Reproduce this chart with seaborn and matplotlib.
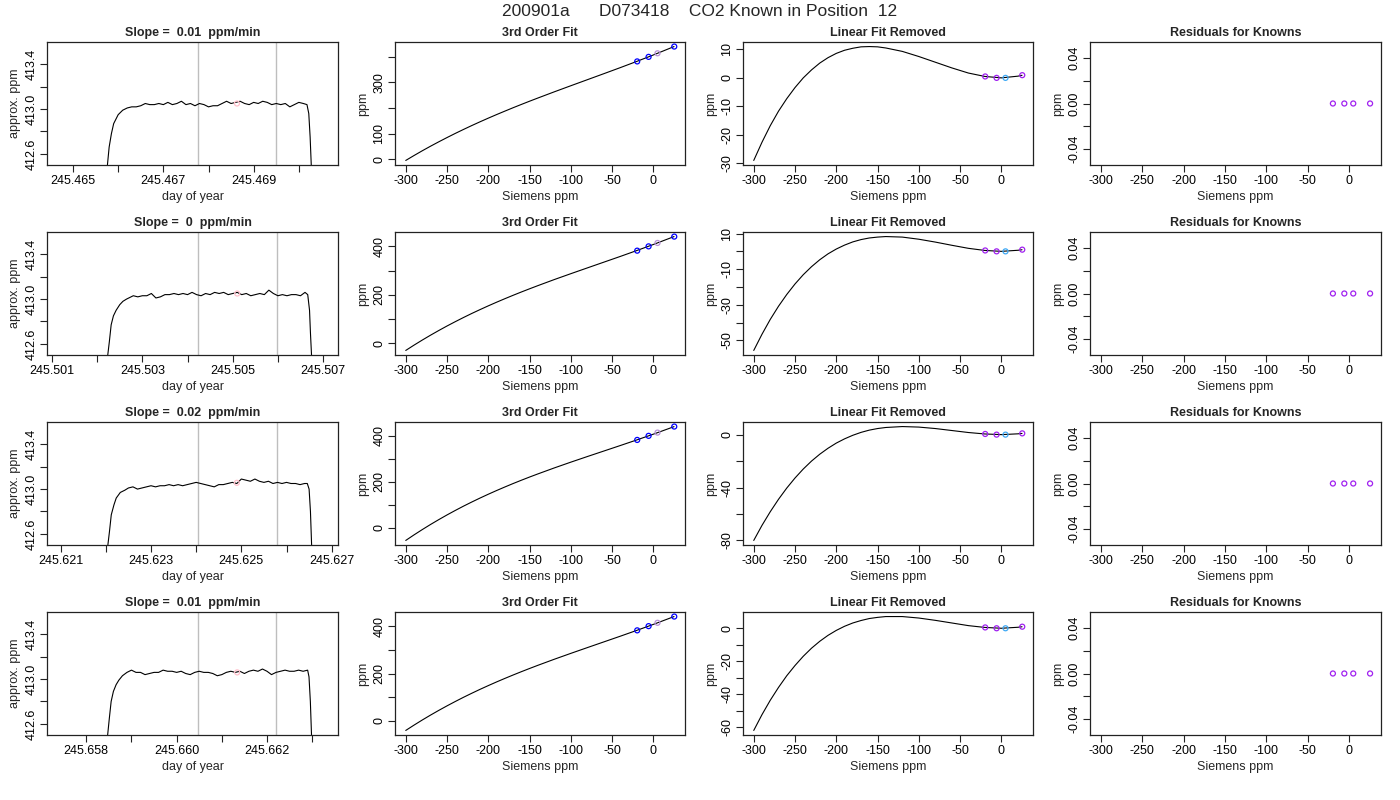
import matplotlib
matplotlib.use("Agg")
import matplotlib.pyplot as plt
import seaborn as sns

sns.set_theme(style="ticks")
plt.rcParams["font.family"] = ["Liberation Sans", "DejaVu Sans"]

TITLE = "200901a      D073418    CO2 Known in Position  12"

# ---- column 1: analyser trace for each run ----
trace_day = [
    [245.46575, 245.46580, 245.46585, 245.46590, 245.46600, 245.46610, 245.46620, 245.46630,
     245.4664, 245.4665, 245.4666, 245.4667, 245.4668, 245.4669, 245.4670, 245.4671, 245.4672, 245.4673,
     245.4674, 245.4675, 245.4676, 245.4677, 245.4678, 245.4679, 245.4680, 245.4681, 245.4682, 245.4683,
     245.4684, 245.4685, 245.4686, 245.4687, 245.4688, 245.4689, 245.4690, 245.4691, 245.4692, 245.4693,
     245.4694, 245.4695, 245.4696, 245.4697, 245.4698, 245.4699, 245.4700, 245.4701,
     245.47018, 245.47022, 245.47025, 245.47028],
    [245.50222, 245.50227, 245.50231, 245.50236, 245.50242, 245.50250, 245.50257, 245.50265,
     245.5027, 245.5028, 245.5029, 245.5030, 245.5031, 245.5032, 245.5033, 245.5034, 245.5035, 245.5036,
     245.5037, 245.5038, 245.5039, 245.5040, 245.5041, 245.5042, 245.5043, 245.5044, 245.5045, 245.5046,
     245.5047, 245.5048, 245.5049, 245.5050, 245.5051, 245.5052, 245.5053, 245.5054, 245.5055, 245.5056,
     245.5057, 245.5058, 245.5059, 245.5060, 245.5061, 245.5062, 245.5063, 245.5064, 245.5065, 245.5066,
     245.50666, 245.50670, 245.50672, 245.50675],
    [245.62203, 245.62208, 245.62212, 245.62218, 245.62223, 245.62232, 245.62242,
     245.6225, 245.6226, 245.6227, 245.6228, 245.6229, 245.6230, 245.6231, 245.6232, 245.6233, 245.6234,
     245.6235, 245.6236, 245.6237, 245.6238, 245.6239, 245.6240, 245.6241, 245.6242, 245.6243, 245.6244,
     245.6245, 245.6246, 245.6247, 245.6248, 245.6249, 245.6250, 245.6251, 245.6252, 245.6253, 245.6254,
     245.6255, 245.6256, 245.6257, 245.6258, 245.6259, 245.6260, 245.6261, 245.6262, 245.6263, 245.6264,
     245.62646, 245.62650, 245.62653, 245.62656],
    [245.65846, 245.65851, 245.65855, 245.65860, 245.65866, 245.65872, 245.65880, 245.65890,
     245.6590, 245.6591, 245.6592, 245.6593, 245.6594, 245.6595, 245.6596, 245.6597, 245.6598, 245.6599,
     245.6600, 245.6601, 245.6602, 245.6603, 245.6604, 245.6605, 245.6606, 245.6607, 245.6608, 245.6609,
     245.6610, 245.6611, 245.6612, 245.6613, 245.6614, 245.6615, 245.6616, 245.6617, 245.6618, 245.6619,
     245.6620, 245.6621, 245.6622, 245.6623, 245.6624, 245.6625, 245.6626, 245.6627, 245.6628, 245.6629,
     245.66293, 245.66296, 245.66299],
]
trace_ppm = [
    [412.45, 412.66, 412.78, 412.87, 412.95, 412.99, 413.01, 413.02,
     413.02, 413.03, 413.05, 413.04, 413.04, 413.05, 413.04, 413.06, 413.04, 413.05,
     413.07, 413.04, 413.05, 413.03, 413.05, 413.04, 413.02, 413.03, 413.03, 413.05,
     413.07, 413.05, 413.06, 413.07, 413.05, 413.04, 413.06, 413.05, 413.07, 413.06,
     413.04, 413.05, 413.04, 413.05, 413.02, 413.04, 413.06, 413.05,
     413.04, 412.96, 412.75, 412.45],
    [412.45, 412.62, 412.77, 412.85, 412.90, 412.95, 412.98, 413.00,
     413.01, 413.03, 413.02, 413.03, 413.03, 413.05, 413.01, 413.02, 413.04, 413.04,
     413.05, 413.04, 413.05, 413.04, 413.06, 413.04, 413.03, 413.05, 413.04, 413.06,
     413.05, 413.06, 413.04, 413.05, 413.06, 413.04, 413.05, 413.03, 413.04, 413.05,
     413.04, 413.08, 413.05, 413.03, 413.04, 413.03, 413.04, 413.04, 413.03, 413.06,
     413.04, 412.90, 412.70, 412.45],
    [412.45, 412.62, 412.77, 412.86, 412.92, 412.97, 412.99,
     413.01, 413.02, 413.00, 413.01, 413.02, 413.03, 413.02, 413.03, 413.03, 413.04,
     413.03, 413.04, 413.03, 413.04, 413.05, 413.06, 413.05, 413.04, 413.03, 413.02,
     413.04, 413.04, 413.05, 413.06, 413.05, 413.09, 413.08, 413.07, 413.09, 413.07,
     413.06, 413.07, 413.05, 413.06, 413.05, 413.06, 413.05, 413.05, 413.04, 413.05,
     413.05, 413.00, 412.80, 412.45],
    [412.45, 412.65, 412.80, 412.89, 412.95, 412.99, 413.03, 413.06,
     413.08, 413.06, 413.06, 413.04, 413.05, 413.06, 413.06, 413.08, 413.07, 413.07,
     413.06, 413.07, 413.05, 413.04, 413.06, 413.07, 413.06, 413.06, 413.05, 413.03,
     413.04, 413.06, 413.07, 413.06, 413.07, 413.05, 413.07, 413.08, 413.07, 413.09,
     413.07, 413.04, 413.06, 413.07, 413.08, 413.07, 413.07, 413.08, 413.07, 413.08,
     413.02, 412.80, 412.45],
]
slopes = ["0.01", "0", "0.02", "0.01"]
window_day = [
    [245.46777, 245.46949],
    [245.50423, 245.50597],
    [245.62404, 245.62578],
    [245.66047, 245.66221],
]
mean_day = [245.46863, 245.50510, 245.62490, 245.66134]
mean_ppm = [413.05, 413.05, 413.056, 413.06]
day_ticks = [
    [245.465, 245.466, 245.467, 245.468, 245.469, 245.470],
    [245.501, 245.502, 245.503, 245.504, 245.505, 245.506, 245.507],
    [245.621, 245.622, 245.623, 245.624, 245.625, 245.626, 245.627],
    [245.658, 245.659, 245.660, 245.661, 245.662, 245.663],
]
day_labels = [
    ["245.465", "", "245.467", "", "245.469", ""],
    ["245.501", "", "245.503", "", "245.505", "", "245.507"],
    ["245.621", "", "245.623", "", "245.625", "", "245.627"],
    ["245.658", "", "245.660", "", "245.662", ""],
]
day_lims = [
    (245.464424, 245.470867),
    (245.50089, 245.50733),
    (245.620697, 245.62714),
    (245.65713, 245.663572),
]

# ---- knowns ----
known_siemens = [-19.6, -5.8, 5.0, 25.3]
known_ppm = [382.4, 400.2, 414.3, 440.6]
known_lin_resid = [
    [0.5, 0.0, 0.0, 0.95],
    [0.5, 0.0, 0.0, 0.95],
    [0.5, 0.0, 0.0, 0.95],
    [0.5, 0.0, 0.0, 0.95],
]
known_fit_resid = [0.0, 0.0, 0.0, 0.0]

# ---- fitted curves (read along Siemens ppm) ----
fit_x = [-300, -290, -280, -270, -260, -250, -240, -230, -220, -210, -200,
         -190, -180, -170, -160, -150, -140, -120, -100, -80, -60, -40, -20,
         0, 20, 25]
fit_ppm = [
    [-5.3, 13.9, 32.5, 50.4, 67.6, 84.3, 100.5, 116.1, 131.3, 146.0, 160.3,
     174.2, 187.7, 201.0, 213.9, 226.6, 239.0, 263.4, 287.2, 310.8, 334.4, 358.2, 382.6,
     407.7, 433.9, 440.6],
    [-30.7, -8.8, 12.2, 32.4, 51.8, 70.5, 88.4, 105.7, 122.4, 138.4, 153.9,
     168.9, 183.4, 197.5, 211.2, 224.5, 237.5, 262.8, 287.1, 311.0, 334.8, 358.6, 383.0,
     408.0, 434.1, 440.8],
    [-55.0, -30.9, -7.8, 14.4, 35.6, 56.0, 75.5, 94.3, 112.2, 129.5, 146.1,
     162.1, 177.5, 192.5, 206.9, 220.9, 234.4, 260.6, 285.7, 310.1, 334.1, 358.1, 382.5,
     407.5, 433.6, 440.3],
    [-39.9, -17.5, 4.1, 24.8, 44.7, 63.8, 82.2, 100.0, 117.0, 133.5, 149.3,
     164.7, 179.5, 193.9, 207.9, 221.5, 234.8, 260.5, 285.3, 309.6, 333.7, 357.8, 382.4,
     407.6, 433.9, 440.6],
]
lin_removed = [
    [-29.0, -22.6, -16.8, -11.7, -7.3, -3.4, 0.0, 2.8, 5.2, 7.1, 8.6,
     9.7, 10.4, 10.9, 11.0, 10.9, 10.5, 9.3, 7.5, 5.5, 3.5, 1.7, 0.5,
     0.0, 0.6, 0.9],
    [-55.6, -46.5, -38.2, -30.8, -24.2, -18.3, -13.1, -8.6, -4.7, -1.4, 1.3,
     3.5, 5.3, 6.6, 7.5, 8.0, 8.3, 8.0, 6.8, 5.2, 3.4, 1.7, 0.5,
     0.0, 0.6, 0.9],
    [-80.0, -68.6, -58.3, -48.9, -40.4, -32.8, -26.0, -20.0, -14.8, -10.3, -6.4,
     -3.2, -0.5, 1.7, 3.4, 4.6, 5.4, 6.1, 5.7, 4.6, 3.1, 1.6, 0.5,
     0.0, 0.6, 0.9],
    [-62.0, -52.4, -43.7, -35.9, -28.8, -22.6, -17.0, -12.1, -7.9, -4.3, -1.3,
     1.2, 3.2, 4.7, 5.9, 6.6, 7.1, 7.1, 6.2, 4.8, 3.2, 1.6, 0.5,
     0.0, 0.6, 0.9],
]

siemens_ticks = [-300, -250, -200, -150, -100, -50, 0]
fit_yticks = [[0, 100, 200, 300, 400]] * 4
fit_ylabels = [["0", "100", "", "300", ""]] + [["0", "", "200", "", "400"]] * 3
lin_yticks = [
    [-30, -20, -10, 0, 10],
    [-50, -40, -30, -20, -10, 0, 10],
    [-80, -60, -40, -20, 0],
    [-60, -50, -40, -30, -20, -10, 0],
]
lin_ylabels = [
    ["-30", "-20", "-10", "0", "10"],
    ["-50", "", "-30", "", "-10", "", "10"],
    ["-80", "", "-40", "", "0"],
    ["-60", "", "-40", "", "-20", "", "0"],
]

FIT_COLORS = ["#0000FF", "#0000FF", "#B890D8", "#0000FF"]
LIN_COLORS = ["#A020F0", "#A020F0", "#3FA9F5", "#A020F0"]
RES_COLOR = "#A020F0"
MARK_SIZE = 13

fig = plt.figure(figsize=(14, 8), dpi=100)
fig.patch.set_facecolor("white")

col_left = [47, 395, 743, 1090]
col_width = [291, 290, 290, 291]
row_top = [42, 232, 422, 612]
ax_h = 123


def make_ax(r, c):
    ax = fig.add_axes([col_left[c] / 1400, 1 - (row_top[r] + ax_h) / 800,
                       col_width[c] / 1400, ax_h / 800])
    ax.set_facecolor("white")
    for sp in ax.spines.values():
        sp.set_visible(True)
        sp.set_color("#222222")
        sp.set_linewidth(0.9)
    ax.tick_params(direction="out", length=5, width=0.8, color="#222222",
                   labelsize=9, pad=2, labelcolor="black")
    return ax


def finish(ax, title, xlabel, ylabel, yticks, ylabels):
    ax.set_yticks(yticks)
    ax.set_yticklabels(ylabels, rotation=90, va="center")
    ax.set_title(title, fontsize=9, fontweight="bold", pad=4)
    ax.set_xlabel(xlabel, fontsize=9, labelpad=3)
    ax.set_ylabel(ylabel, fontsize=9, labelpad=3)


for r in range(4):
    # trace
    ax = make_ax(r, 0)
    for d in window_day[r]:
        ax.axvline(d, color="#BEBEBE", linewidth=1.0, zorder=1)
    sns.lineplot(x=trace_day[r], y=trace_ppm[r], ax=ax, color="black",
                 linewidth=0.8, estimator=None, sort=False, errorbar=None)
    ax.scatter([mean_day[r]], [mean_ppm[r]], s=MARK_SIZE, facecolors="none",
               edgecolors="#FFC0CB", linewidths=0.9, zorder=3)
    ax.set_xlim(*day_lims[r])
    ax.set_ylim(412.50, 413.60)
    ax.set_xticks(day_ticks[r])
    ax.set_xticklabels(day_labels[r])
    finish(ax, f"Slope =  {slopes[r]}  ppm/min", "day of year", "approx. ppm",
           [412.6, 412.8, 413.0, 413.2, 413.4], ["412.6", "", "413.0", "", "413.4"])

    # 3rd order fit
    ax = make_ax(r, 1)
    sns.lineplot(x=fit_x, y=fit_ppm[r], ax=ax, color="black", linewidth=0.8,
                 estimator=None, errorbar=None)
    ax.scatter(known_siemens, known_ppm, s=MARK_SIZE, facecolors="none",
               edgecolors=FIT_COLORS, linewidths=0.9, zorder=3)
    ax.margins(x=0.04, y=0.04)
    ax.set_xticks(siemens_ticks)
    ax.set_xticklabels([str(v) for v in siemens_ticks])
    finish(ax, "3rd Order Fit", "Siemens ppm", "ppm", fit_yticks[r], fit_ylabels[r])

    # linear fit removed
    ax = make_ax(r, 2)
    sns.lineplot(x=fit_x, y=lin_removed[r], ax=ax, color="black", linewidth=0.8,
                 estimator=None, errorbar=None)
    ax.scatter(known_siemens, known_lin_resid[r], s=MARK_SIZE, facecolors="none",
               edgecolors=LIN_COLORS, linewidths=0.9, zorder=3)
    ax.margins(x=0.04, y=0.04)
    ax.set_xticks(siemens_ticks)
    ax.set_xticklabels([str(v) for v in siemens_ticks])
    finish(ax, "Linear Fit Removed", "Siemens ppm", "ppm", lin_yticks[r], lin_ylabels[r])

    # residuals
    ax = make_ax(r, 3)
    ax.scatter(known_siemens, known_fit_resid, s=MARK_SIZE, facecolors="none",
               edgecolors=RES_COLOR, linewidths=0.9, zorder=3)
    ax.set_xlim(-313, 38.5)
    ax.set_ylim(-0.054, 0.054)
    ax.set_xticks(siemens_ticks)
    ax.set_xticklabels([str(v) for v in siemens_ticks])
    finish(ax, "Residuals for Knowns", "Siemens ppm", "ppm",
           [-0.04, -0.02, 0.0, 0.02, 0.04], ["-0.04", "", "0.00", "", "0.04"])

fig.text(0.5, 1 - 11 / 800, TITLE, ha="center", va="center", fontsize=12.5)

fig.savefig("out.png", dpi=100, facecolor="white")
